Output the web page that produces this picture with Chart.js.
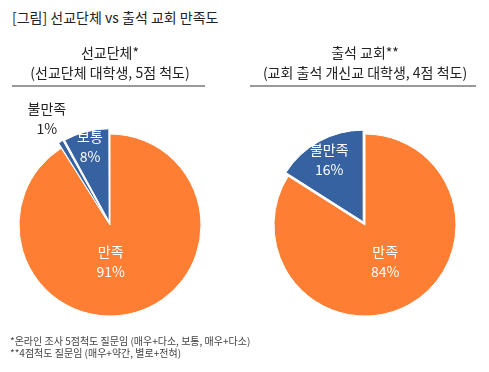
<!DOCTYPE html>
<html>
<head>
<meta charset="utf-8">
<script src="https://cdn.jsdelivr.net/npm/chart.js@4"></script>
<style>
  body { margin: 0; width: 489px; height: 372px; background: #fff; font-family: "Noto Sans CJK KR", "Noto Sans", sans-serif; position: relative; overflow: hidden; }
  #head { position: absolute; left: 12px; top: 7px; font-size: 14px; color: #222; line-height: 20px; }
  #notes { position: absolute; left: 10px; top: 335px; font-size: 10px; color: #444; line-height: 12px; z-index: 2; }
  #leftBox { position: absolute; left: 0; top: 0; width: 220px; height: 372px; }
  #rightBox { position: absolute; left: 241px; top: 0; width: 248px; height: 372px; }
</style>
</head>
<body>
<div id="head">[그림] 선교단체 vs 출석 교회 만족도</div>
<div id="leftBox"><canvas id="leftChart" width="220" height="372"></canvas></div>
<div id="rightBox"><canvas id="rightChart" width="248" height="372"></canvas></div>
<div id="notes">*온라인 조사 5점척도 질문임 (매우+다소, 보통, 매우+다소)<br>**4점척도 질문임 (매우+약간, 별로+전혀)</div>
<script>
const leftLabels = ['만족', '불만족', '보통'];
const leftValues = [91, 1, 8];
const rightLabels = ['만족', '불만족'];
const rightValues = [84, 16];
const leftTitle = ['선교단체*', '(선교단체 대학생, 5점 척도)'];
const rightTitle = ['출석 교회**', '(교회 출석 개신교 대학생, 4점 척도)'];

const ORANGE = '#FE7F33';
const BLUE = '#3762A1';

// 조각 안/밖 라벨 (이름 + 퍼센트)
const sliceLabels = {
  id: 'sliceLabels',
  afterDatasetsDraw(chart, args, opts) {
    const meta = chart.getDatasetMeta(0);
    const ds = chart.data.datasets[0];
    const ctx = chart.ctx;
    ctx.save();
    ctx.font = '14px "Noto Sans CJK KR"';
    ctx.textAlign = 'center';
    ctx.textBaseline = 'middle';
    meta.data.forEach((arc, i) => {
      const p = arc.getProps(['x', 'y', 'startAngle', 'endAngle', 'outerRadius'], true);
      const mid = (p.startAngle + p.endAngle) / 2;
      const s = opts.slices[i];
      const r = arc.options.offset + s.frac * p.outerRadius;
      const x = p.x + Math.cos(mid) * r + (s.dx || 0);
      const y = p.y + Math.sin(mid) * r;
      ctx.fillStyle = s.color;
      ctx.fillText(chart.data.labels[i], x, y - 10);
      ctx.fillText(ds.data[i] + '%', x, y + 10);
    });
    ctx.restore();
  }
};

// 제목 밑줄
const underline = {
  id: 'underline',
  afterDraw(chart, args, opts) {
    const ctx = chart.ctx;
    ctx.save();
    ctx.fillStyle = '#999';
    ctx.fillRect(opts.x1, opts.y, opts.x2 - opts.x1, 2);
    ctx.restore();
  }
};

function makePie(id, labels, values, colors, offsets, title, slices, line) {
  const ctx = document.getElementById(id).getContext('2d');
  return new Chart(ctx, {
    type: 'pie',
    data: {
      labels: labels,
      datasets: [{
        data: values,
        backgroundColor: colors,
        borderColor: '#fff',
        borderWidth: 1,
        offset: offsets
      }]
    },
    options: {
      responsive: false,
      animation: false,
      radius: 91,
      layout: { padding: { top: 0, bottom: 15 } },
      plugins: {
        legend: { display: false },
        tooltip: { enabled: false },
        title: {
          display: true,
          text: title,
          color: '#222',
          font: { family: '"Noto Sans CJK KR"', size: 14, weight: 'normal', lineHeight: 1.43 },
          padding: { top: 43, bottom: 10 }
        },
        sliceLabels: { slices: slices },
        underline: line
      }
    },
    plugins: [sliceLabels, underline]
  });
}

makePie('leftChart', leftLabels, leftValues, [ORANGE, BLUE, BLUE], [0, 12, 14], leftTitle,
  [
    { frac: 0.42, color: '#fff', dx: -10 },
    { frac: 1.23, color: '#222' },
    { frac: 0.73, color: '#fff' }
  ],
  { x1: 12, x2: 205, y: 85 });

makePie('rightChart', rightLabels, rightValues, [ORANGE, BLUE], [0, 15], rightTitle,
  [
    { frac: 0.46, color: '#fff' },
    { frac: 0.65, color: '#fff' }
  ],
  { x1: 9, x2: 235, y: 85 });
</script>
</body>
</html>
